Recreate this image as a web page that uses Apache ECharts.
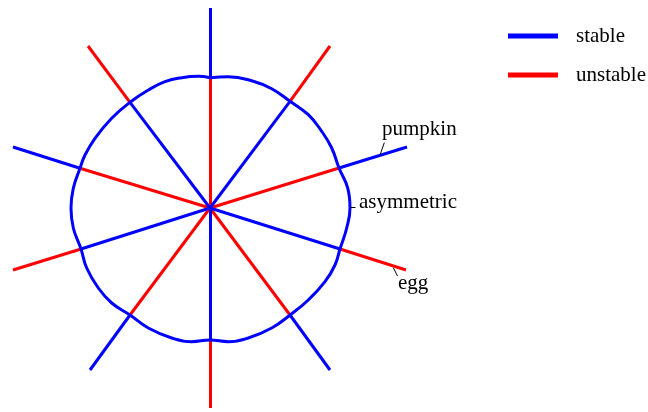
<!DOCTYPE html>
<html>
<head>
<meta charset="utf-8">
<script src="https://cdn.jsdelivr.net/npm/echarts@6/dist/echarts.min.js"></script>
<style>
  html, body { margin: 0; padding: 0; background: #fff; }
  #chart { width: 648px; height: 412px; }
</style>
</head>
<body>
<div id="chart"></div>
<script>
// Branch diagram: five lines through the origin, each split where it meets
// the closed stability boundary; every half-branch is either stable or unstable.

// Outer end of each half-branch (x, y), going clockwise from the top
const branchEnds = [
  [0, 200], [120, 162], [197, 61], [196, -62], [120, -162],
  [0, -200], [-120, -162], [-197, -62], [-197, 61], [-122, 162]
];
// Where each half-branch crosses the boundary curve
const branchCrossings = [
  [0, 130.3], [80, 106.7], [129, 40], [130, -41], [80, -107],
  [0, -132], [-80, -107], [-129, -41], [-130, 39.7], [-80, 105.7]
];
// Stability of the part inside the boundary (the outer part is the opposite)
const innerStable = [false, true, false, true, false, true, false, true, false, true];

// Boundary curve, clockwise from the top
const boundary = [
  [0, 130.3], [18.3, 131.3], [41.7, 127.3], [61.7, 119.3], [80, 106.7],
  [98.3, 93.3], [111.7, 76.7], [121.7, 60], [129, 40], [137.7, 20],
  [140, 0], [136.7, -20], [130, -41], [125, -57], [115, -73.7],
  [98.3, -92], [80, -107], [61.7, -120], [38.3, -130], [18.3, -133.7],
  [0, -132], [-18.3, -133.7], [-38.3, -130], [-61.7, -120], [-80, -107],
  [-98.3, -95], [-111.7, -80], [-123.3, -60], [-129, -41], [-136.7, -20],
  [-139, 0], [-136.7, 19.7], [-130, 39.7], [-125, 53], [-115, 69.7],
  [-98.3, 89.7], [-80, 105.7], [-61.7, 118], [-45, 126.3], [-28.3, 130.3],
  [-11.7, 131.7], [0, 130.3]
];

// Callout labels and the short leader lines pointing at their features
const calloutNames = ['pumpkin', 'asymmetric', 'egg'];
const calloutLeaders = [
  [[174.3, 65.3], [170, 53]],
  [[140.5, 1], [145.5, 1]],
  [[183.3, -59.7], [187.5, -68]]
];

const legendNames = ['stable', 'unstable'];
const STABLE = '#0000ff';
const UNSTABLE = '#ff0000';
const FONT = "'Liberation Serif', 'Times New Roman', serif";

const stableSegs = [];
const unstableSegs = [];
branchEnds.forEach((end, i) => {
  const cross = branchCrossings[i];
  const inner = { coords: [[0, 0], cross] };
  const outer = { coords: [cross, end] };
  if (innerStable[i]) { stableSegs.push(inner); unstableSegs.push(outer); }
  else { unstableSegs.push(inner); stableSegs.push(outer); }
});

const chart = echarts.init(document.getElementById('chart'), null, { renderer: 'canvas' });

function calloutText(name, x, y) {
  return {
    type: 'text', x: x, y: y,
    style: { text: name, font: '21px ' + FONT, fill: '#000', verticalAlign: 'top' }
  };
}

chart.setOption({
  animation: false,
  color: [STABLE, UNSTABLE],
  grid: { left: 10, top: 8, width: 400, height: 400 },
  xAxis: { type: 'value', min: -200, max: 200, show: false },
  yAxis: { type: 'value', min: -200, max: 200, show: false },
  legend: {
    data: legendNames.map(n => ({ name: n, icon: 'rect' })),
    orient: 'vertical',
    left: 503,
    top: 16,
    itemWidth: 48,
    itemHeight: 3,
    itemGap: 9,
    selectedMode: false,
    textStyle: {
      fontFamily: FONT, fontSize: 21, color: '#000',
      lineHeight: 24, padding: [0, 0, 6, 14]
    }
  },
  series: [
    {
      name: 'unstable', type: 'lines', coordinateSystem: 'cartesian2d',
      polyline: false, silent: true, z: 2,
      itemStyle: { color: UNSTABLE },
      lineStyle: { color: UNSTABLE, width: 3, opacity: 1 },
      data: unstableSegs
    },
    {
      name: 'stable', type: 'lines', coordinateSystem: 'cartesian2d',
      polyline: false, silent: true, z: 2,
      itemStyle: { color: STABLE },
      lineStyle: { color: STABLE, width: 3, opacity: 1 },
      data: stableSegs
    },
    {
      name: 'stable', type: 'line', silent: true, z: 3,
      data: boundary, smooth: 0.45, showSymbol: false,
      itemStyle: { color: STABLE },
      lineStyle: { color: STABLE, width: 3 }
    },
    {
      name: 'callouts', type: 'lines', coordinateSystem: 'cartesian2d',
      silent: true, z: 4,
      lineStyle: { color: '#000', width: 1, opacity: 1 },
      data: calloutLeaders.map(c => ({ coords: c }))
    }
  ],
  graphic: [
    calloutText(calloutNames[0], 382, 118.5),
    calloutText(calloutNames[1], 359, 191.7),
    calloutText(calloutNames[2], 398, 273)
  ]
});
</script>
</body>
</html>
